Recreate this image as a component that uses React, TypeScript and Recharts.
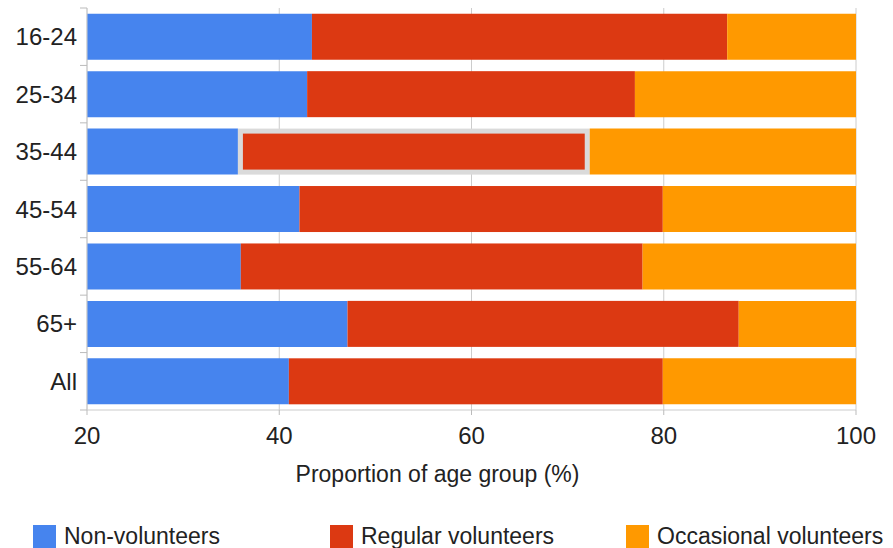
import { BarChart, Bar, XAxis, YAxis, CartesianGrid, Legend } from 'recharts';

const ageGroups = ['16-24', '25-34', '35-44', '45-54', '55-64', '65+', 'All'];
const nonVolunteers = [43.4, 42.9, 35.7, 42.1, 36.0, 47.1, 41.0];
const regularVolunteers = [43.2, 34.1, 36.6, 37.8, 41.8, 40.7, 38.9];
const occasionalVolunteers = [13.4, 23.0, 27.7, 20.1, 22.2, 12.2, 20.1];
const xTicks = [20, 40, 60, 80, 100];

const seriesNames = ['Non-volunteers', 'Regular volunteers', 'Occasional volunteers'];
const seriesColors = ['#4684EE', '#DC3912', '#FF9900'];
const legendLeft = [33, 330, 626];

// the 35-44 regular bar is drawn with the hover outline
const highlightIndex = 2;

const data = ageGroups.map((age, i) => ({
  age,
  non: nonVolunteers[i],
  regular: regularVolunteers[i],
  occasional: occasionalVolunteers[i],
}));

const W = 893;
const H = 548;
const TOP = 8;
const PLOT_BOTTOM = 410;
const BAND = (PLOT_BOTTOM - TOP) / ageGroups.length;
const FONT = 'Arial, "Liberation Sans", sans-serif';

function AgeTick(props: any) {
  const { x, y, payload, index } = props;
  return (
    <g>
      <text x={x} y={y} dy="0.36em" textAnchor="end" fontSize={24} fill="#222" fontFamily={FONT}>
        {payload.value}
      </text>
      <line x1={x + 3} x2={x + 10} y1={y - BAND / 2} y2={y - BAND / 2} stroke="#bbb" />
      {index === ageGroups.length - 1 && (
        <line x1={x + 3} x2={x + 10} y1={y + BAND / 2} y2={y + BAND / 2} stroke="#bbb" />
      )}
    </g>
  );
}

function RegularShape(props: any) {
  const { x, y, width, height, fill, index } = props;
  if (index !== highlightIndex) {
    return <rect x={x} y={y} width={width} height={height} fill={fill} />;
  }
  return (
    <g>
      <rect x={x} y={y} width={width} height={height} fill="#dadada" />
      <rect x={x + 5} y={y + 5} width={width - 10} height={height - 10} fill={fill} />
    </g>
  );
}

function LegendBox() {
  return (
    <div style={{ position: 'relative', width: W, height: 30, fontFamily: FONT }}>
      {seriesNames.map((name, i) => (
        <div
          key={name}
          style={{ position: 'absolute', left: legendLeft[i], top: 0, display: 'flex', alignItems: 'center' }}
        >
          <span style={{ width: 23, height: 23, background: seriesColors[i], display: 'inline-block' }} />
          <span style={{ marginLeft: 8, fontSize: 23, color: '#222', whiteSpace: 'nowrap' }}>{name}</span>
        </div>
      ))}
    </div>
  );
}

export default function App() {
  return (
    <div style={{ position: 'absolute', left: 0, top: 0, background: '#fff' }}>
      <BarChart
        width={W}
        height={H}
        data={data}
        layout="vertical"
        margin={{ top: TOP, right: 37, left: 0, bottom: 0 }}
        barCategoryGap="10%"
      >
        <CartesianGrid horizontal={false} stroke="#ccc" />
        <XAxis
          type="number"
          domain={[20, 100]}
          ticks={xTicks}
          allowDataOverflow
          height={H - PLOT_BOTTOM}
          axisLine={{ stroke: '#ccc' }}
          tickLine={{ stroke: '#bbb' }}
          tickSize={5}
          tickMargin={12}
          tick={{ fontSize: 24, fill: '#222', fontFamily: FONT }}
          label={{
            value: 'Proportion of age group (%)',
            position: 'insideBottom',
            offset: 66,
            dx: -34,
            style: { fontSize: 23, fill: '#222', fontFamily: FONT },
          }}
        />
        <XAxis
          xAxisId="top"
          orientation="top"
          type="number"
          domain={[20, 100]}
          allowDataOverflow
          height={0}
          tick={false}
          tickLine={false}
          axisLine={{ stroke: '#ccc' }}
        />
        <YAxis
          type="category"
          dataKey="age"
          width={87}
          tickSize={7}
          tickMargin={3}
          tickLine={false}
          axisLine={{ stroke: '#ccc' }}
          tick={<AgeTick />}
        />
        <Legend
          verticalAlign="middle"
          align="center"
          layout="horizontal"
          content={<LegendBox />}
          wrapperStyle={{ position: 'absolute', left: 0, top: 523, width: W, height: 30 }}
        />
        <Bar dataKey="non" name={seriesNames[0]} stackId="a" fill={seriesColors[0]} isAnimationActive={false} />
        <Bar
          dataKey="regular"
          name={seriesNames[1]}
          stackId="a"
          fill={seriesColors[1]}
          shape={<RegularShape />}
          isAnimationActive={false}
        />
        <Bar dataKey="occasional" name={seriesNames[2]} stackId="a" fill={seriesColors[2]} isAnimationActive={false} />
      </BarChart>
    </div>
  );
}
